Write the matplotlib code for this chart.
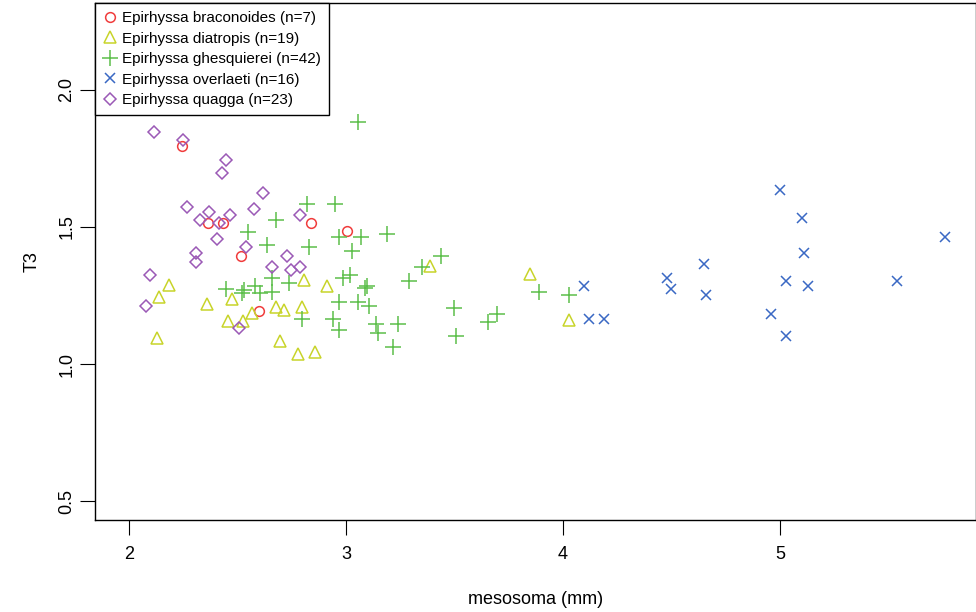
import numpy as np
import matplotlib
matplotlib.use("Agg")
from matplotlib import pyplot as plt

plt.rcParams['font.family'] = ['Liberation Sans', 'DejaVu Sans']

# mesosoma (mm) / T3 for each species
braconoides_x = [2.244, 2.364, 2.433, 2.516, 2.599, 2.839, 3.005]
braconoides_y = [1.796, 1.515, 1.515, 1.394, 1.193, 1.515, 1.485]

diatropis_x = [2.184, 2.138, 2.359, 2.475, 2.567, 2.456, 2.525, 2.677, 2.714, 2.797,
               2.806, 2.912, 2.129, 2.696, 2.779, 2.857, 3.387, 3.848, 4.028]
diatropis_y = [1.288, 1.245, 1.219, 1.237, 1.186, 1.157, 1.157, 1.208, 1.197, 1.208,
               1.307, 1.285, 1.095, 1.084, 1.036, 1.044, 1.358, 1.328, 1.161]

ghesquierei_x = [3.055, 2.820, 2.949, 2.677, 2.968, 3.069, 3.189, 2.548, 2.636, 2.829,
                 3.028, 3.438, 3.350, 2.659, 2.737, 2.986, 3.018, 3.290, 2.581, 2.604,
                 2.659, 3.088, 3.097, 2.968, 3.055, 3.106, 2.797, 2.940, 2.968, 3.138,
                 3.240, 3.147, 3.217, 2.447, 2.521, 3.498, 3.507, 3.654, 3.696, 3.889,
                 4.028, 2.530]
ghesquierei_y = [1.883, 1.584, 1.584, 1.526, 1.464, 1.464, 1.474, 1.482, 1.434, 1.427,
                 1.412, 1.394, 1.354, 1.314, 1.296, 1.314, 1.325, 1.303, 1.285, 1.259,
                 1.263, 1.277, 1.285, 1.226, 1.226, 1.212, 1.164, 1.164, 1.124, 1.146,
                 1.146, 1.113, 1.062, 1.274, 1.259, 1.204, 1.102, 1.153, 1.182, 1.263,
                 1.252, 1.270]

overlaeti_x = [4.097, 4.120, 4.189, 4.479, 4.498, 4.650, 4.659, 5.000, 5.101, 5.111,
               5.028, 5.129, 4.959, 5.028, 5.539, 5.760]
overlaeti_y = [1.285, 1.164, 1.164, 1.314, 1.274, 1.365, 1.252, 1.635, 1.533, 1.405,
               1.303, 1.285, 1.182, 1.102, 1.303, 1.464]

quagga_x = [2.115, 2.249, 2.447, 2.429, 2.618, 2.267, 2.369, 2.327, 2.465, 2.415,
            2.576, 2.788, 2.406, 2.539, 2.309, 2.309, 2.728, 2.659, 2.747, 2.788,
            2.097, 2.078, 2.507]
quagga_y = [1.847, 1.818, 1.745, 1.697, 1.624, 1.573, 1.555, 1.526, 1.544, 1.515,
            1.566, 1.544, 1.456, 1.427, 1.405, 1.372, 1.394, 1.354, 1.343, 1.354,
            1.325, 1.212, 1.131]

x_ticks = [2, 3, 4, 5]
y_ticks = [0.5, 1.0, 1.5, 2.0]

fig = plt.figure(figsize=(9.76, 6.12), dpi=100)
ax = fig.add_axes([95 / 976, 92 / 612, 881 / 976, 517 / 612])

# (x, y, label, marker, size, color)
series = [
    (braconoides_x, braconoides_y, "Epirhyssa braconoides (n=7)", "o", 7, "#f03c3c"),
    (diatropis_x, diatropis_y, "Epirhyssa diatropis (n=19)", "^", 9, "#c8d42a"),
    (ghesquierei_x, ghesquierei_y, "Epirhyssa ghesquierei (n=42)", "+", 11, "#5cbf4a"),
    (overlaeti_x, overlaeti_y, "Epirhyssa overlaeti (n=16)", "x", 7, "#3a68c4"),
    (quagga_x, quagga_y, "Epirhyssa quagga (n=23)", "D", 6.5, "#9b59b6"),
]
for xs, ys, lab, mk, ms, col in series:
    ax.plot(xs, ys, linestyle="none", marker=mk, markersize=ms,
            markerfacecolor="none", markeredgecolor=col, markeredgewidth=1.1,
            label=lab)

ax.set_xlim(1.843, 5.903)
ax.set_ylim(0.4307, 2.3175)
ax.set_xticks(x_ticks)
ax.set_xticklabels([str(v) for v in x_ticks])
ax.set_yticks(y_ticks)
ax.set_yticklabels(["%.1f" % v for v in y_ticks], rotation=90, va="center")
ax.tick_params(direction="out", length=11, width=0.8, labelsize=13)
ax.tick_params(axis="x", pad=8)
ax.tick_params(axis="y", pad=3)
for s in ax.spines.values():
    s.set_linewidth(1.0)

ax.set_xlabel("mesosoma (mm)", fontsize=13, labelpad=20)
ax.set_ylabel("T3", fontsize=13, labelpad=13)

leg = ax.legend(loc="upper left", fontsize=11, frameon=True, fancybox=False,
                framealpha=1, edgecolor="black", borderaxespad=0,
                handletextpad=0.3, labelspacing=0.42, handlelength=0.9,
                borderpad=0.55)
leg.get_frame().set_linewidth(1.0)

plt.savefig("out.png", dpi=100)
